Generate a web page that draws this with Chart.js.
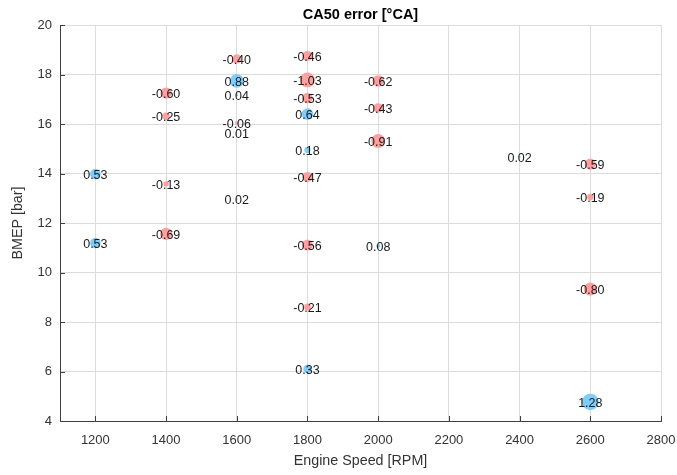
<!DOCTYPE html>
<html>
<head>
<meta charset="utf-8">
<script src="https://cdn.jsdelivr.net/npm/chart.js@4/dist/chart.umd.min.js"></script>
<style>
  html, body { margin: 0; padding: 0; background: #fff; }
  #wrap { width: 677px; height: 475px; }
</style>
</head>
<body>
<div id="wrap"><canvas id="chart_ca50"></canvas></div>
<script>
// engine operating points and CA50 error at each
var engineSpeed = [1200, 1200,
    1400, 1400, 1400, 1400,
    1600, 1600, 1600, 1600, 1600, 1600,
    1800, 1800, 1800, 1800, 1800, 1800, 1800, 1800, 1800,
    2000, 2000, 2000, 2000,
    2400,
    2600, 2600, 2600, 2600];
var bmep = [13.98, 11.19,
    17.25, 16.32, 13.58, 11.56,
    18.63, 17.74, 17.17, 16.04, 15.64, 12.97,
    18.75, 17.78, 17.05, 16.40, 14.95, 13.86, 11.11, 8.61, 6.10,
    17.74, 16.65, 15.31, 11.07,
    14.67,
    14.38, 13.05, 9.33, 4.77];
var ca50Error = [0.53, 0.53,
    -0.60, -0.25, -0.13, -0.69,
    -0.40, 0.88, 0.04, -0.06, 0.01, 0.02,
    -0.46, -1.03, -0.53, 0.64, 0.18, -0.47, -0.56, -0.21, 0.33,
    -0.62, -0.43, -0.91, 0.08,
    0.02,
    -0.59, -0.19, -0.80, 1.28];

var xTicks = [1200, 1400, 1600, 1800, 2000, 2200, 2400, 2600, 2800];
var yTicks = [4, 6, 8, 10, 12, 14, 16, 18, 20];

var FONT = '"Liberation Sans", Arial, Helvetica, sans-serif';

function buildPoints() {
    var pts = [];
    for (var i = 0; i < engineSpeed.length; i++) {
        pts.push({x: engineSpeed[i], y: bmep[i]});
    }
    return pts;
}

function bubbleSize(c) {
    return 7.3 * Math.sqrt(Math.abs(ca50Error[c.dataIndex]));
}

// text labels, inward ticks and title, all placed through the chart scales
var overlay = {
    id: 'overlay',
    afterDraw: function(chart) {
        var ctx = chart.ctx;
        var xs = chart.scales.x, ys = chart.scales.y;
        var area = chart.chartArea;

        ctx.save();
        ctx.strokeStyle = '#404040';
        ctx.lineWidth = 1;
        ctx.beginPath();
        xTicks.forEach(function(v) {
            var px = Math.round(xs.getPixelForValue(v)) + 0.5;
            ctx.moveTo(px, area.bottom);
            ctx.lineTo(px, area.bottom - 5);
        });
        yTicks.forEach(function(v) {
            var py = Math.round(ys.getPixelForValue(v)) + 0.5;
            ctx.moveTo(area.left, py);
            ctx.lineTo(area.left + 5, py);
        });
        ctx.stroke();

        ctx.fillStyle = '#1a1a1a';
        ctx.font = '12.5px ' + FONT;
        ctx.textAlign = 'center';
        ctx.textBaseline = 'middle';
        for (var i = 0; i < engineSpeed.length; i++) {
            ctx.fillText(ca50Error[i].toFixed(2),
                xs.getPixelForValue(engineSpeed[i]),
                ys.getPixelForValue(bmep[i]) + 1.5);
        }

        ctx.fillStyle = '#000';
        ctx.font = 'bold 14.5px ' + FONT;
        ctx.fillText('CA50 error [°CA]', (area.left + area.right) / 2, 15);
        ctx.restore();
    }
};

function createChart() {
    var ctx = document.getElementById('chart_ca50').getContext('2d');

    new Chart(ctx, {
        type: 'scatter',
        data: {
            datasets: [{
                label: 'CA50 error',
                data: buildPoints(),
                pointRadius: bubbleSize,
                pointHoverRadius: bubbleSize,
                backgroundColor: function(c) { return ca50Error[c.dataIndex] < 0 ? '#ffa0a0' : '#80ccfa'; },
                borderWidth: 0
            }]
        },
        options: {
            responsive: true,
            maintainAspectRatio: false,
            animation: false,
            events: [],
            layout: {padding: {top: 25, right: 16, left: 0, bottom: 0}},
            plugins: {
                legend: {display: false},
                tooltip: {enabled: false}
            },
            scales: {
                x: {
                    type: 'linear',
                    min: 1100,
                    max: 2800,
                    afterBuildTicks: function(s) { s.ticks = xTicks.map(function(v) { return {value: v}; }); },
                    afterFit: function(s) { s.height = 54; s.paddingRight = 0; s.paddingLeft = 0; },
                    grid: {color: '#dcdcdc', drawTicks: false},
                    border: {color: '#404040', width: 1},
                    ticks: {color: '#333', padding: 12, font: {family: FONT, size: 13}, maxRotation: 0, autoSkip: false,
                        callback: function(v) { return String(v); }},
                    title: {display: true, text: 'Engine Speed [RPM]', color: '#333',
                        font: {family: FONT, size: 14.3}, padding: {top: 0, bottom: 5}}
                },
                y: {
                    type: 'linear',
                    min: 4,
                    max: 20,
                    afterBuildTicks: function(s) { s.ticks = yTicks.map(function(v) { return {value: v}; }); },
                    afterFit: function(s) { s.width = 60; },
                    grid: {color: '#dcdcdc', drawTicks: false},
                    border: {color: '#404040', width: 1},
                    ticks: {color: '#333', padding: 8, font: {family: FONT, size: 13}, autoSkip: false},
                    title: {display: true, text: 'BMEP [bar]', color: '#333',
                        font: {family: FONT, size: 14.3}, padding: {top: 9, bottom: 0}}
                }
            }
        },
        plugins: [overlay]
    });
}

createChart();
</script>
</body>
</html>
